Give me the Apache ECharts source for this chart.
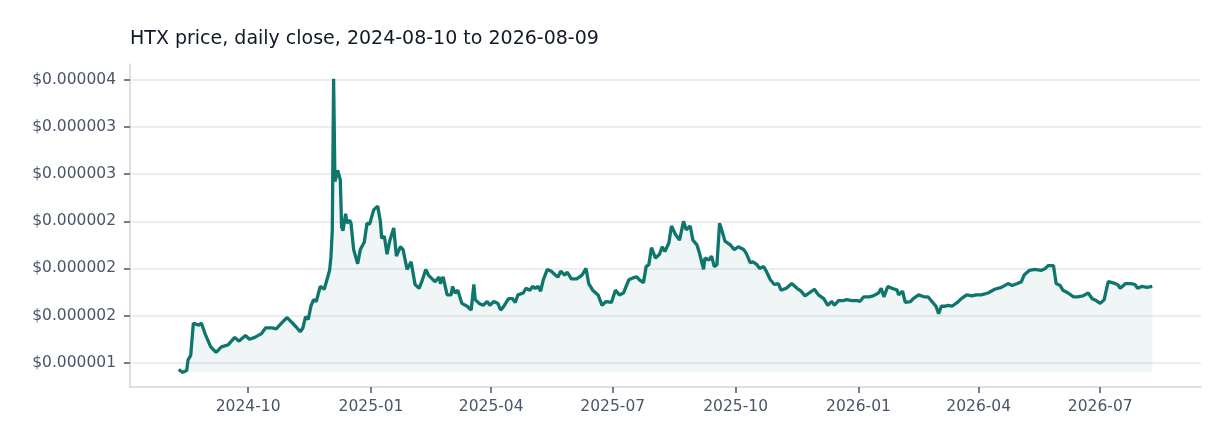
<!DOCTYPE html>
<html lang="en">
<head>
<meta charset="UTF-8">
<title>HTX price</title>
<script src="https://cdn.jsdelivr.net/npm/echarts@6/dist/echarts.min.js"></script>
<style>
    html, body { margin: 0; padding: 0; background: #fff; }
    #chart { width: 1232px; height: 448px; }
</style>
</head>
<body>
<div id="chart"></div>
<script type="text/javascript">
    // close prices
    // dayOffsets = days since startDate, closeMicro = price in millionths of a dollar
    var startDate = '2024-08-10';
    var dayOffsets = [
        0, 3, 6, 7, 9, 11, 15, 17, 20, 24, 28, 32, 37, 42, 45, 50, 53, 57, 62, 65,
        70, 73, 77, 81, 84, 88, 91, 93, 95, 97, 99, 101, 103, 106, 109, 111, 113, 114, 115, 116,
        117, 119, 121, 122, 123, 125, 126, 128, 129, 131, 134, 136, 139, 141, 143, 144, 146, 149, 151, 152,
        154, 156, 158, 161, 163, 166, 168, 171, 174, 177, 180, 182, 185, 187, 189, 192, 195, 196, 198, 201,
        204, 205, 207, 209, 212, 216, 219, 221, 222, 225, 228, 231, 233, 236, 239, 241, 243, 247, 250, 252,
        254, 258, 260, 263, 265, 267, 269, 271, 273, 276, 279, 282, 284, 286, 289, 291, 294, 298, 302, 305,
        307, 310, 314, 317, 320, 324, 327, 330, 333, 337, 340, 343, 345, 348, 350, 352, 354, 357, 360, 362,
        364, 367, 369, 372, 375, 378, 380, 383, 385, 388, 390, 393, 394, 397, 399, 401, 403, 405, 407, 409,
        413, 416, 419, 423, 425, 428, 430, 433, 435, 438, 440, 443, 446, 449, 451, 455, 459, 463, 466, 469,
        472, 476, 479, 483, 486, 489, 491, 494, 498, 500, 504, 508, 510, 513, 517, 520, 524, 526, 528, 531,
        534, 538, 539, 542, 544, 548, 550, 554, 558, 561, 564, 567, 569, 571, 574, 576, 579, 583, 586, 590,
        594, 597, 601, 606, 611, 616, 621, 624, 628, 631, 633, 637, 641, 646, 649, 651, 652, 655, 657, 660,
        662, 666, 670, 673, 677, 681, 684, 687, 690, 693, 694, 696, 699, 703, 705, 709, 713, 716, 718, 721,
        725, 729
    ];
    var closeMicro = [
        0.93, 0.90, 0.92, 1.03, 1.08, 1.42, 1.40, 1.42, 1.30, 1.17, 1.11, 1.17, 1.19, 1.27, 1.23, 1.29, 1.25, 1.27, 1.31, 1.37,
        1.37, 1.36, 1.42, 1.48, 1.44, 1.38, 1.33, 1.37, 1.49, 1.46, 1.60, 1.67, 1.65, 1.81, 1.78, 1.88, 1.98, 2.12, 2.40, 4.01,
        2.92, 3.04, 2.94, 2.44, 2.40, 2.58, 2.48, 2.51, 2.48, 2.20, 2.05, 2.20, 2.28, 2.48, 2.47, 2.45, 2.62, 2.66, 2.50, 2.32,
        2.34, 2.15, 2.29, 2.43, 2.13, 2.23, 2.20, 1.99, 2.07, 1.83, 1.79, 1.86, 1.99, 1.93, 1.90, 1.86, 1.91, 1.84, 1.91, 1.72,
        1.72, 1.81, 1.74, 1.77, 1.63, 1.60, 1.56, 1.83, 1.67, 1.63, 1.61, 1.65, 1.61, 1.65, 1.63, 1.56, 1.59, 1.68, 1.68, 1.64,
        1.72, 1.74, 1.79, 1.77, 1.81, 1.79, 1.81, 1.76, 1.88, 1.99, 1.97, 1.93, 1.91, 1.97, 1.93, 1.96, 1.89, 1.89, 1.93, 2.00,
        1.84, 1.77, 1.72, 1.61, 1.65, 1.64, 1.77, 1.72, 1.74, 1.88, 1.90, 1.91, 1.88, 1.85, 2.02, 2.04, 2.22, 2.11, 2.15, 2.23,
        2.18, 2.27, 2.45, 2.36, 2.30, 2.50, 2.41, 2.45, 2.30, 2.25, 2.16, 1.99, 2.11, 2.09, 2.13, 2.02, 2.04, 2.48, 2.39, 2.29,
        2.25, 2.20, 2.23, 2.20, 2.16, 2.06, 2.07, 2.04, 2.00, 2.02, 1.97, 1.88, 1.83, 1.84, 1.77, 1.79, 1.84, 1.79, 1.76, 1.71,
        1.74, 1.78, 1.72, 1.68, 1.61, 1.65, 1.61, 1.66, 1.66, 1.67, 1.66, 1.66, 1.65, 1.70, 1.70, 1.71, 1.74, 1.79, 1.70, 1.81,
        1.79, 1.77, 1.72, 1.76, 1.64, 1.65, 1.68, 1.72, 1.70, 1.70, 1.65, 1.60, 1.52, 1.60, 1.60, 1.61, 1.60, 1.64, 1.68, 1.72,
        1.71, 1.72, 1.72, 1.74, 1.78, 1.80, 1.84, 1.82, 1.84, 1.86, 1.93, 1.98, 1.99, 1.98, 2.00, 2.03, 2.01, 2.03, 1.84, 1.82,
        1.77, 1.74, 1.70, 1.70, 1.71, 1.74, 1.68, 1.66, 1.63, 1.67, 1.74, 1.86, 1.85, 1.83, 1.79, 1.84, 1.84, 1.83, 1.79, 1.81,
        1.80, 1.81
    ];
    var xTickLabels = ['2024-10', '2025-01', '2025-04', '2025-07', '2025-10', '2026-01', '2026-04', '2026-07'];
    var yTickValues = [1, 1.5, 2, 2.5, 3, 3.5, 4];
    var yTickLabels = ['$0.000001', '$0.000002', '$0.000002', '$0.000002', '$0.000003', '$0.000003', '$0.000004'];

    var lineColor = '#0f766e';
    var labelColor = '#4a5568';
    var fontName = 'DejaVu Sans';

    function daysSinceStart(y, m, d) {
        var s = startDate.split('-');
        return Math.round((Date.UTC(y, m - 1, d) - Date.UTC(+s[0], +s[1] - 1, +s[2])) / 86400000);
    }
    var xTickDays = xTickLabels.map(function (lab) {
        var p = lab.split('-');
        return daysSinceStart(+p[0], +p[1], 1);
    });

    var seriesData = [];
    for (var i = 0; i < dayOffsets.length; i++) {
        seriesData.push([dayOffsets[i], closeMicro[i]]);
    }

    // 5% padding round the data, like the original
    var yLo = Math.min.apply(null, closeMicro);
    var yHi = Math.max.apply(null, closeMicro);
    var yPad = (yHi - yLo) * 0.05;
    var xLo = dayOffsets[0];
    var xHi = dayOffsets[dayOffsets.length - 1];
    var xPad = (xHi - xLo) * 0.05;

    var myChart = echarts.init(document.getElementById('chart'));
    var option = {
        animation: false,
        backgroundColor: '#ffffff',
        title: {
            text: 'HTX price, daily close, 2024-08-10 to 2026-08-09',
            left: 130,
            top: 30,
            padding: 0,
            textStyle: {
                fontFamily: fontName,
                fontSize: 19,
                fontWeight: 'normal',
                color: '#111827'
            }
        },
        grid: {
            left: 130,
            right: 31,
            top: 64,
            bottom: 61
        },
        xAxis: {
            type: 'value',
            min: xLo - xPad,
            max: xHi + xPad,
            axisLine: { onZero: false, lineStyle: { color: '#d1d5db', width: 1.5 } },
            axisTick: {
                customValues: xTickDays,
                length: 6,
                lineStyle: { color: labelColor, width: 1.5 }
            },
            axisLabel: {
                customValues: xTickDays,
                margin: 12,
                color: labelColor,
                fontFamily: fontName,
                fontSize: 15.5,
                formatter: function (v) {
                    var k = xTickDays.indexOf(Math.round(v));
                    return k >= 0 ? xTickLabels[k] : '';
                }
            },
            splitLine: { show: false }
        },
        yAxis: {
            type: 'value',
            min: yLo - yPad,
            max: yHi + yPad,
            axisLine: { show: true, onZero: false, lineStyle: { color: '#d1d5db', width: 1.5 } },
            axisTick: {
                show: true,
                customValues: yTickValues,
                length: 6,
                lineStyle: { color: labelColor, width: 1.5 }
            },
            axisLabel: {
                customValues: yTickValues,
                margin: 14,
                color: labelColor,
                fontFamily: fontName,
                fontSize: 15.5,
                formatter: function (v) {
                    for (var j = 0; j < yTickValues.length; j++) {
                        if (Math.abs(yTickValues[j] - v) < 1e-6) return yTickLabels[j];
                    }
                    return '';
                }
            },
            splitLine: { show: true, lineStyle: { color: '#e5e7eb', width: 1.5 } }
        },
        series: [
            {
                name: 'HTX',
                type: 'line',
                data: seriesData,
                showSymbol: false,
                sampling: 'none',
                lineStyle: { color: lineColor, width: 3.3 },
                itemStyle: { color: lineColor },
                areaStyle: { color: 'rgba(15,118,110,0.09)', origin: yLo }
            }
        ]
    };
    myChart.setOption(option);
</script>
</body>
</html>
